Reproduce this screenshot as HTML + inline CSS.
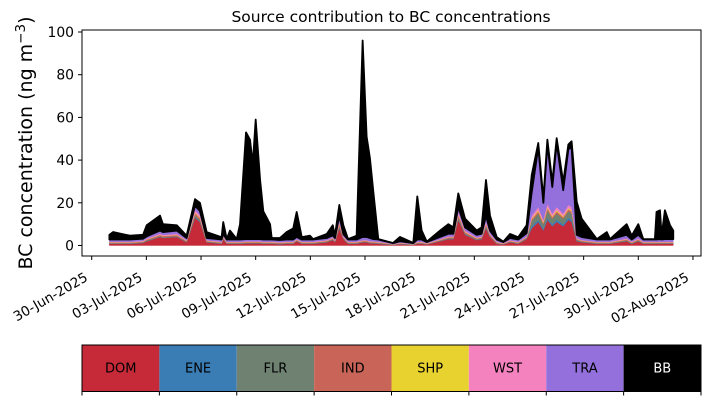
<!DOCTYPE html>
<html><head><meta charset="utf-8"><style>
html,body{margin:0;padding:0;background:#fff;}
svg{display:block;font-family:"DejaVu Sans","Liberation Sans",sans-serif;}
</style></head><body>
<svg id="chart" width="710" height="402" viewBox="0 0 710 402" xmlns="http://www.w3.org/2000/svg">
<text x="391" y="22" text-anchor="middle" font-size="15.5">Source contribution to BC concentrations</text>
<text transform="translate(32,143) rotate(-90)" text-anchor="middle" font-size="19">BC concentration (ng m<tspan dy="-7" font-size="13.5">−3</tspan><tspan dy="7">)</tspan></text>
<g id="areas"></g>
<rect x="82" y="30" width="619" height="226" fill="none" stroke="#000" stroke-width="1"/>
<g id="yaxis"></g>
<g id="xaxis"></g>
<g id="legend"></g>
</svg>
<script>
const times=[0.97,1.17,1.66,2.10,2.82,3.02,3.75,3.91,4.67,5.21,5.67,5.94,6.31,7.13,7.22,7.41,7.59,7.96,8.14,8.47,8.69,8.84,9.00,9.24,9.42,9.79,9.88,10.33,10.70,11.06,11.25,11.53,11.98,12.15,12.90,13.23,13.35,13.59,13.81,14.07,14.54,14.87,15.09,15.27,15.46,15.73,16.54,16.92,17.65,17.87,18.11,18.39,19.12,19.57,19.85,20.12,20.49,21.13,21.40,21.64,21.86,22.23,22.59,22.96,23.41,23.87,24.15,24.51,24.79,25.01,25.28,25.52,25.88,26.16,26.34,26.62,26.89,27.72,28.27,28.45,29.36,29.64,30.00,30.27,30.91,31.00,31.19,31.28,31.46,31.74,31.92];
const DOM=[.8,.8,.8,.8,1.2,2,4,3.5,4,1.5,
13,11,1.5,.8,3,.8,.8,.8,.8,1,
1,1,1,1,.8,.8,.8,.6,.8,.8,
2,.8,.8,.8,1.5,2.5,1.5,8,3,.8,
.8,1.5,1.5,1,1,.8,.3,.6,.3,.8,
.8,.5,2,3,3,12,5,2.5,3,8,
4,.8,.5,1.5,.8,3,8,11,7,12,
9,11,9,12,11,2,1.5,.8,.8,.8,
2,.8,2,.8,.8,.8,.8,.8,.8,.8,.8];
const ENE=[.1,.1,.1,.1,.1,.1,.1,.1,.1,.1,
.3,.3,.1,.1,.1,.1,.1,.1,.1,.1,
.1,.1,.1,.1,.1,.1,.1,.1,.1,.1,
.1,.1,.1,.1,.1,.1,.1,.3,.1,.1,
.1,.1,.1,.1,.1,.1,.05,.1,.05,.1,
.1,.05,.1,.1,.1,.3,.2,.1,.1,.3,
.1,.1,.05,.1,.1,.1,1,1,.8,1,
1,1,1,1,1,.2,.1,.1,.1,.1,
.1,.1,.1,.1,.1,.1,.1,.1,.1,.1,.1];
const FLR=[.2,.2,.2,.2,.2,.3,.3,.3,.3,.2,
.8,.7,.2,.2,.3,.2,.2,.2,.2,.2,
.2,.2,.2,.2,.2,.2,.2,.2,.2,.2,
.2,.2,.2,.2,.2,.3,.2,.7,.3,.2,
.2,.2,.2,.2,.2,.2,.1,.1,.1,.2,
.2,.1,.2,.3,.3,.8,.4,.3,.3,.7,
.3,.2,.1,.2,.2,.3,2.5,3,2,3.5,
2.5,3,2.5,3,3,.4,.3,.2,.2,.2,
.3,.2,.3,.2,.2,.2,.2,.2,.2,.2,.2];
const IND=[.3,.3,.3,.3,.3,.4,.5,.5,.5,.3,
1,.9,.3,.3,.4,.3,.3,.3,.3,.3,
.3,.3,.3,.3,.3,.3,.3,.3,.3,.3,
.3,.3,.3,.3,.3,.4,.3,.9,.4,.3,
.3,.3,.3,.3,.3,.3,.1,.2,.1,.3,
.3,.2,.3,.4,.4,1,.6,.4,.4,.9,
.5,.3,.2,.3,.3,.4,.8,1,.8,1,
.8,1,.8,1,1,.4,.3,.3,.3,.3,
.4,.3,.4,.3,.3,.3,.3,.3,.3,.3,.3];
const SHP=[.1,.1,.1,.1,.1,.1,.1,.1,.1,.1,
.3,.3,.1,.1,.1,.1,.1,.1,.1,.1,
.1,.1,.1,.1,.1,.1,.1,.1,.1,.1,
.1,.1,.1,.1,.1,.1,.1,.3,.1,.1,
.1,.1,.1,.1,.1,.1,.05,.1,.05,.1,
.1,.05,.1,.1,.1,.3,.2,.1,.1,.3,
.1,.1,.05,.1,.1,.1,.4,.5,.4,.5,
.4,.5,.4,.5,.5,.1,.1,.1,.1,.1,
.1,.1,.1,.1,.1,.1,.1,.1,.1,.1,.1];
const WST=[.3,.3,.3,.3,.3,.4,.5,.5,.5,.3,
1.2,1,.3,.3,.4,.3,.3,.3,.3,.3,
.3,.3,.3,.3,.3,.3,.3,.3,.3,.3,
.3,.3,.3,.3,.3,.4,.3,1,.4,.3,
.3,.3,.3,.3,.3,.3,.1,.2,.1,.3,
.3,.2,.3,.4,.4,1.2,.6,.4,.4,1,
.5,.3,.2,.3,.3,.4,1.2,1.5,1,1.5,
1.2,1.5,1.2,1.5,1.5,.4,.3,.3,.3,.3,
.4,.3,.4,.3,.3,.3,.3,.3,.3,.3,.3];
const TRA=[1,1,1,1,1,1,1.5,1.3,1.5,1,
2,2,1,1,1.2,1,1,1,1,1,
1,1,1,1,1,1,1,1,1,1,
1,1,1,1,1,1,1,2.8,1,1,
1,1.5,1.5,1.5,1,1,.4,.7,.4,1,
1,.5,1,1.2,1.2,2.5,1.5,1.2,1.2,2.8,
1.5,1,.5,1,1,1.5,11,28,8,28,
12.5,30,11,26,28,1.5,1.4,1,1,1,
1.7,1,1.7,1,1,1,1.2,1,1.2,1.2,1.2];
const BB=[2.2,3.5,2.6,1.8,1.8,5.2,7,3.7,2.5,1.1,
3.1,3.8,2.8,1.1,5.5,.2,4.2,.2,7.2,50,
46.5,35,56,28,13.2,7.2,.7,.9,3.5,5.2,
11.7,1.1,1.8,.2,1.9,4.7,1.1,5,4.2,.2,
1.8,92,47,37.5,22,.2,.1,2,.1,20.2,
4.2,.2,3,4.5,3,6.3,4.1,2,3,16.7,
7,1.1,.2,1.9,1.1,3.7,8.1,2,2,2.1,
2.2,2.3,3.7,2.3,2.8,15.5,8.6,.2,3.5,.2,
5,1.8,5,.2,.2,12.9,13.5,1.8,13.5,6.5,4];
const seriesNames=["DOM","ENE","FLR","IND","SHP","WST","TRA","BB"];
const seriesColors=["#c62a38","#3a7db4","#6f8272","#c86558","#e8d230","#f382be","#9370db","#000000"];
const yTicks=[0,20,40,60,80,100];
const xTickDays=[0,3,6,9,12,15,18,21,24,27,30,33];
const xTickLabels=["30-Jun-2025","03-Jul-2025","06-Jul-2025","09-Jul-2025","12-Jul-2025","15-Jul-2025","18-Jul-2025","21-Jul-2025","24-Jul-2025","27-Jul-2025","30-Jul-2025","02-Aug-2025"];

const NS="http://www.w3.org/2000/svg";
const xs=t=>91.7+t*18.22;
const ys=v=>245.5-v*2.135;
function mk(tag,attrs,parent){const e=document.createElementNS(NS,tag);for(const k in attrs)e.setAttribute(k,attrs[k]);parent.appendChild(e);return e;}

const data=[DOM,ENE,FLR,IND,SHP,WST,TRA,BB];
const areas=document.getElementById('areas');
let base=times.map(()=>0);
data.forEach((s,si)=>{
  const top=base.map((b,i)=>b+s[i]);
  let d="M"+times.map((t,i)=>xs(t).toFixed(2)+","+ys(top[i]).toFixed(2)).join("L");
  for(let i=times.length-1;i>=0;i--)d+="L"+xs(times[i]).toFixed(2)+","+ys(base[i]).toFixed(2);
  d+="Z";
  const p=mk('path',{d:d,fill:seriesColors[si],stroke:seriesColors[si],'stroke-width':si===7?1.8:0.4,'stroke-linejoin':'round'},areas);
  
  
  base=top;
});

const ya=document.getElementById('yaxis');
yTicks.forEach(v=>{
  const l=mk('line',{x1:78,x2:82,y1:ys(v),y2:ys(v),stroke:'#000'},ya);
  
  
  const tx=mk('text',{x:74,y:ys(v)+5,'text-anchor':'end','font-size':13.9},ya);
  tx.textContent=v;
  
  
});
const xa=document.getElementById('xaxis');
xTickDays.forEach((d,i)=>{
  const x=xs(d);
  const l=mk('line',{x1:x,x2:x,y1:256,y2:260,stroke:'#000'},xa);
  
  
  const tx=mk('text',{transform:`translate(${x-3},${280}) rotate(-30)`,'text-anchor':'end','font-size':13.5},xa);
  tx.textContent=xTickLabels[i];
  
  
});

const lg=document.getElementById('legend');
const lx0=82,lw=619/8;
seriesNames.forEach((n,i)=>{
  const r=mk('rect',{x:lx0+i*lw,y:345,width:lw,height:46.5,fill:seriesColors[i]},lg);
  
  
  const tx=mk('text',{x:lx0+i*lw+lw/2,y:372.5,'text-anchor':'middle','font-size':13,fill:i===7?'#fff':'#000'},lg);
  tx.textContent=n;
  
  
});
for(let i=0;i<=8;i++){
  const x=lx0+i*lw;
  const l=mk('line',{x1:x,x2:x,y1:391.5,y2:395.5,stroke:'#000'},lg);
  
  
}
const fr=mk('rect',{x:lx0,y:345,width:619,height:46.5,fill:'none',stroke:'#000'},lg);


</script>
</body></html>
